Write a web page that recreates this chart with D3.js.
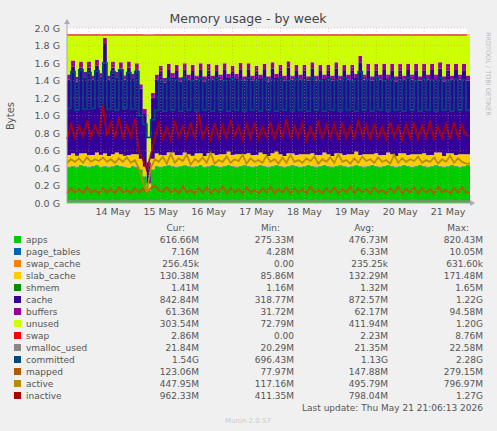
<!DOCTYPE html>
<html><head><meta charset="utf-8">
<script src="https://cdn.jsdelivr.net/npm/d3@7"></script>
<style>body{margin:0;background:#f0f0f0}svg{display:block}text{font-family:"DejaVu Sans",sans-serif}</style>
</head><body><svg id="c" width="497" height="431"></svg>
<script>
const startTime = new Date(2026,4,13,13,0);
const stepHours = 2;
const memTotalG = 1.92;
// values in units of 0.01 G
const apps = "41 42 41 43 42 41 42 43 41 42 41 42 43 42 41 40 42 41 38 30 14 38 42 41 42 43 42 41 42 43 42 41 42 43 41 42 43 42 41 42 43 42 41 42 43 42 41 42 43 42 41 42 43 42 41 42 43 42 41 42 43 42 41 42 43 42 41 42 43 42 41 42 43 42 41 42 43 42 41 42 43 42 41 42 43 42 41 42 43 42 41 42 43 42 41 42 43 42 41 42 43".split(" ").map(Number);
const slab_cache = "13 14 12 13 14 13 12 14 13 14 12 13 14 13 12 14 13 14 12 11 8 12 14 13 12 14 15 13 12 14 13 12 14 13 12 14 13 12 14 13 15 12 14 13 12 14 13 12 14 13 12 14 15 13 12 14 13 12 14 13 12 14 13 12 14 13 12 14 13 12 14 13 15 12 14 13 12 14 13 12 14 13 12 14 13 12 14 13 12 14 13 12 14 15 12 14 13 12 14 13 12".split(" ").map(Number);
const cache = "86 99 85 98 87 100 86 99 88 125 87 99 86 98 87 100 86 97 80 60 20 70 84 95 83 94 85 96 84 95 85 97 84 96 85 95 84 96 85 97 84 95 86 97 84 96 85 95 84 96 85 97 84 95 86 98 84 96 85 95 84 97 85 96 84 95 86 97 84 96 85 95 84 106 85 96 84 95 86 97 84 96 85 95 84 97 85 96 84 95 86 97 84 96 85 95 84 97 85 96 84".split(" ").map(Number);
const buffers = "6 7 5 7 6 7 5 7 6 7 5 7 6 7 5 7 6 7 5 6 4 5 6 7 5 7 6 7 5 7 6 7 5 7 6 7 5 7 6 7 5 7 6 7 5 7 6 7 5 7 6 7 5 7 6 7 5 7 6 7 5 7 6 7 5 7 6 7 5 7 6 7 5 7 6 7 5 7 6 7 5 7 6 7 5 7 6 7 5 7 6 7 5 7 6 7 5 7 6 7 6".split(" ").map(Number);
const committed = "108 150 106 152 107 149 108 151 110 160 107 150 106 152 108 149 107 150 100 90 75 95 106 140 105 142 106 141 105 143 106 140 105 142 106 141 105 143 106 140 105 142 106 141 105 143 106 140 105 142 106 141 105 143 106 140 105 142 106 141 105 143 106 140 105 142 106 141 105 143 106 140 105 150 106 141 105 143 106 140 105 142 106 141 105 143 106 140 105 142 106 141 105 143 106 140 105 142 106 141 106".split(" ").map(Number);
const inactive = "73 90 74 88 76 94 75 89 78 112 76 92 74 98 73 89 75 96 60 50 38 55 74 91 73 86 72 94 75 88 74 92 73 102 75 87 72 91 74 89 73 95 76 88 72 90 74 92 73 87 75 93 72 89 74 96 73 88 75 91 72 87 74 94 73 89 75 90 72 92 74 88 73 95 76 89 72 91 74 87 73 93 75 88 72 90 74 92 73 89 75 94 72 88 74 90 73 92 75 89 77".split(" ").map(Number);
const active = "46 50 47 51 46 52 47 50 48 52 47 50 46 51 47 52 46 49 40 25 12 40 50 47 53 45 56 46 51 48 55 44 50 47 52 46 57 45 49 47 53 46 50 48 55 45 51 47 49 46 54 47 50 45 52 46 55 47 49 46 51 48 53 45 50 47 52 46 56 47 49 45 51 46 53 48 50 46 52 47 49 45 55 46 51 47 50 48 53 46 49 47 52 45 50 47 54 46 51 47 45".split(" ").map(Number);
const mapped = "11 17 12 16 11 18 12 15 11 17 12 16 11 18 12 15 11 17 12 16 12 17 20 14 13 18 12 16 11 19 12 15 11 17 12 18 11 16 12 19 11 17 12 16 11 18 12 15 11 17 12 19 11 16 12 18 11 17 12 16 11 19 12 15 11 17 12 18 11 16 12 19 11 17 12 16 11 18 12 15 11 17 12 19 11 16 12 18 11 17 12 16 11 19 12 15 11 17 12 18 12".split(" ").map(Number);
// small series in MB
const page_tables = [7,6,7,6,7,6,7,6,7,6,7,6,7,6,7,6,7,6,5,5,4,5,6,7,6,7,6,7,6,7,6,7,6,7,6,7,6,7,6,7,6,7,6,7,6,7,6,7,6,7,6,7,6,7,6,7,6,7,6,7,6,7,6,7,6,7,6,7,6,7,6,7,6,7,6,7,6,7,6,7,6,7,6,7,6,7,6,7,6,7,6,7,6,7,6,7,6,7,6,7,7];
const shmem = [1,1,2,1,1,2,1,1,2,1,1,2,1,1,2,1,1,2,1,1,1,1,2,1,1,2,1,1,2,1,1,2,1,1,2,1,1,2,1,1,2,1,1,2,1,1,2,1,1,2,1,1,2,1,1,2,1,1,2,1,1,2,1,1,2,1,1,2,1,1,2,1,1,2,1,1,2,1,1,2,1,1,2,1,1,2,1,1,2,1,1,2,1,1,2,1,1,2,1,1,1];
const swap = [2,2,3,2,2,3,2,2,3,2,2,3,2,2,3,2,2,3,2,1,0,1,2,2,3,2,2,3,2,2,3,2,2,3,2,2,3,2,2,3,2,2,3,2,2,3,2,2,3,2,2,3,2,2,3,2,2,3,2,2,3,2,2,3,2,2,3,2,2,3,2,2,3,2,2,3,2,2,3,2,2,3,2,2,3,2,2,3,2,2,3,2,2,3,2,2,3,2,2,3,3];
const vmalloc_used = [21,21,22,21,21,22,21,21,22,21,21,22,21,21,22,21,21,22,21,21,20,21,21,22,21,21,22,21,21,22,21,21,22,21,21,22,21,21,22,21,21,22,21,21,22,21,21,22,21,21,22,21,21,22,21,21,22,21,21,22,21,21,22,21,21,22,21,21,22,21,21,22,21,21,22,21,21,22,21,21,22,21,21,22,21,21,22,21,21,22,21,21,22,21,21,22,21,21,22,21,22];
const yTicks = [0,0.2,0.4,0.6,0.8,1.0,1.2,1.4,1.6,1.8,2.0];
const dayLabels = ["14 May","15 May","16 May","17 May","18 May","19 May","20 May","21 May"];
const legendNames = ["apps","page_tables","swap_cache","slab_cache","shmem","cache","buffers","unused","swap","vmalloc_used","committed","mapped","active","inactive"];
const legendColors = ["#00cc00","#0066b3","#ff8000","#ffcc00","#008f00","#330099","#990099","#ccff00","#ff0000","#888888","#00487d","#b35a00","#b38f00","#aa0000"];
const legCur = ["616.66M","7.16M","256.45k","130.38M","1.41M","842.84M","61.36M","303.54M","2.86M","21.84M","1.54G","123.06M","447.95M","962.33M"];
const legMin = ["275.33M","4.28M","0.00","85.86M","1.16M","318.77M","31.72M","72.79M","0.00","20.29M","696.43M","77.97M","117.16M","411.35M"];
const legAvg = ["476.73M","6.33M","235.25k","132.29M","1.32M","872.57M","62.17M","411.94M","2.23M","21.35M","1.13G","147.88M","495.79M","798.04M"];
const legMax = ["820.43M","10.05M","631.60k","171.48M","1.65M","1.22G","94.58M","1.20G","8.76M","22.58M","2.28G","279.15M","796.97M","1.27G"];

const svg = d3.select("#c");
const L=67,R=467,T=28,B=203;
const n = apps.length;
const t = i => new Date(startTime.getTime()+i*stepHours*3600e3);
const x = d3.scaleTime().domain([startTime, new Date(2026,4,21,21,30)]).range([L,R]);
const y = d3.scaleLinear().domain([0,2]).range([B,T]);
svg.append("rect").attr("x",L).attr("y",T).attr("width",R-L).attr("height",B-T).attr("fill","#fff");

const rows = d3.range(n).map(i=>{
  const r={i, apps:apps[i]/100, page_tables:page_tables[i]/1000, swap_cache:0.0002, slab_cache:slab_cache[i]/100, shmem:shmem[i]/1000, cache:cache[i]/100, buffers:buffers[i]/100};
  r.unused = memTotalG - (r.apps+r.page_tables+r.swap_cache+r.slab_cache+r.shmem+r.cache+r.buffers);
  r.swap = swap[i]/1000;
  return r;
});
const keys=["apps","page_tables","swap_cache","slab_cache","shmem","cache","buffers","unused","swap"];
const stacked=d3.stack().keys(keys)(rows);
const area=d3.area().curve(d3.curveStepAfter).x(d=>x(t(d.data.i))).y0(d=>y(d[0])).y1(d=>y(d[1]));
stacked.forEach((s,k)=>{
  svg.append("path").datum(s.concat([Object.assign([s[n-1][0],s[n-1][1]],{data:{i:n}})])).attr("d",area).attr("fill",legendColors[k]);
});
const lineG=(arr,div,cv)=>d3.line().curve(cv).x((d,i)=>x(t(i))).y(d=>y(d/div))(arr.concat([arr[arr.length-1]]));
const lines=[[vmalloc_used,1000,"#888888",d3.curveStepAfter],[committed,100,"#00487d",d3.curveStepAfter],[mapped,100,"#b35a00",d3.curveLinear],[active,100,"#b38f00",d3.curveLinear],[inactive,100,"#aa0000",d3.curveLinear]];
lines.forEach(([a,dv,c,cv])=>svg.append("path").attr("d",lineG(a,dv,cv)).attr("fill","none").attr("stroke",c).attr("stroke-width",1.8));
svg.append("line").attr("x1",L).attr("x2",R).attr("y1",y(memTotalG)).attr("y2",y(memTotalG)).attr("stroke","#dd0000").attr("stroke-width",1);

const g=svg.append("g");
for(let d=13;d<=22;d++){ for(let h=0;h<24;h+=6){ const dt=new Date(2026,4,d,h); const xx=x(dt); if(xx<L||xx>R) continue;
  g.append("line").attr("x1",xx).attr("x2",xx).attr("y1",T).attr("y2",B).attr("stroke",h===0?"#e08080":"#dcb8b8").attr("stroke-opacity",0.7).attr("stroke-dasharray","1,2").attr("stroke-width",0.6);}}
yTicks.forEach(v=>{g.append("line").attr("x1",L).attr("x2",R).attr("y1",y(v)).attr("y2",y(v)).attr("stroke","#e08080").attr("stroke-opacity",0.7).attr("stroke-dasharray","1,2").attr("stroke-width",0.6);
  svg.append("text").attr("x",60).attr("y",y(v)+3.5).attr("text-anchor","end").attr("font-size",9.5).attr("fill","#555").text(v.toFixed(1)+" G");});
dayLabels.forEach((s,k)=>svg.append("text").attr("x",x(new Date(2026,4,14+k,12))).attr("y",215).attr("text-anchor","middle").attr("font-size",9.5).attr("fill","#555").text(s));
svg.append("line").attr("x1",L).attr("x2",R+6).attr("y1",B).attr("y2",B).attr("stroke","#aaa");
svg.append("line").attr("x1",L).attr("x2",L).attr("y1",B).attr("y2",T-8).attr("stroke","#aaa");
svg.append("path").attr("d",`M${R+3},${B-3}L${R+8},${B}L${R+3},${B+3}Z`).attr("fill","#aab");
svg.append("path").attr("d",`M${L-3},${T-4}L${L},${T-9}L${L+3},${T-4}Z`).attr("fill","#aab");

svg.append("text").attr("x",248).attr("y",23).attr("text-anchor","middle").attr("font-size",12.5).attr("fill","#444").text("Memory usage - by week");
svg.append("text").attr("transform","translate(14,116) rotate(-90)").attr("text-anchor","middle").attr("font-size",10).attr("fill","#555").text("Bytes");
svg.append("text").attr("transform","translate(486,32) rotate(90)").attr("font-size",6.5).attr("fill","#bbb").text("RRDTOOL / TOBI OETIKER");

const mono='"DejaVu Sans Mono",monospace';
const cols=[[199,"Cur:",legCur],[294,"Min:",legMin],[388,"Avg:",legAvg],[483,"Max:",legMax]];
cols.forEach(([cx,h])=>svg.append("text").attr("x",cx-14).attr("y",231).attr("text-anchor","end").attr("font-family",mono).attr("font-size",9).attr("fill","#555").text(h));
legendNames.forEach((nm,k)=>{
  const yy=243+k*12;
  svg.append("rect").attr("x",14).attr("y",yy-7).attr("width",7).attr("height",7).attr("fill",legendColors[k]);
  svg.append("text").attr("x",26).attr("y",yy).attr("font-family",mono).attr("font-size",9).attr("fill","#555").text(nm);
  cols.forEach(([cx,,arr])=>svg.append("text").attr("x",cx).attr("y",yy).attr("text-anchor","end").attr("font-family",mono).attr("font-size",9).attr("fill","#555").text(arr[k]));
});
svg.append("text").attr("x",483).attr("y",411).attr("text-anchor","end").attr("font-family",mono).attr("font-size",9).attr("fill","#555").text("Last update: Thu May 21 21:06:13 2026");
svg.append("text").attr("x",248).attr("y",423).attr("text-anchor","middle").attr("font-size",7).attr("fill","#ccc").text("Munin 2.0.57");
</script></body></html>
